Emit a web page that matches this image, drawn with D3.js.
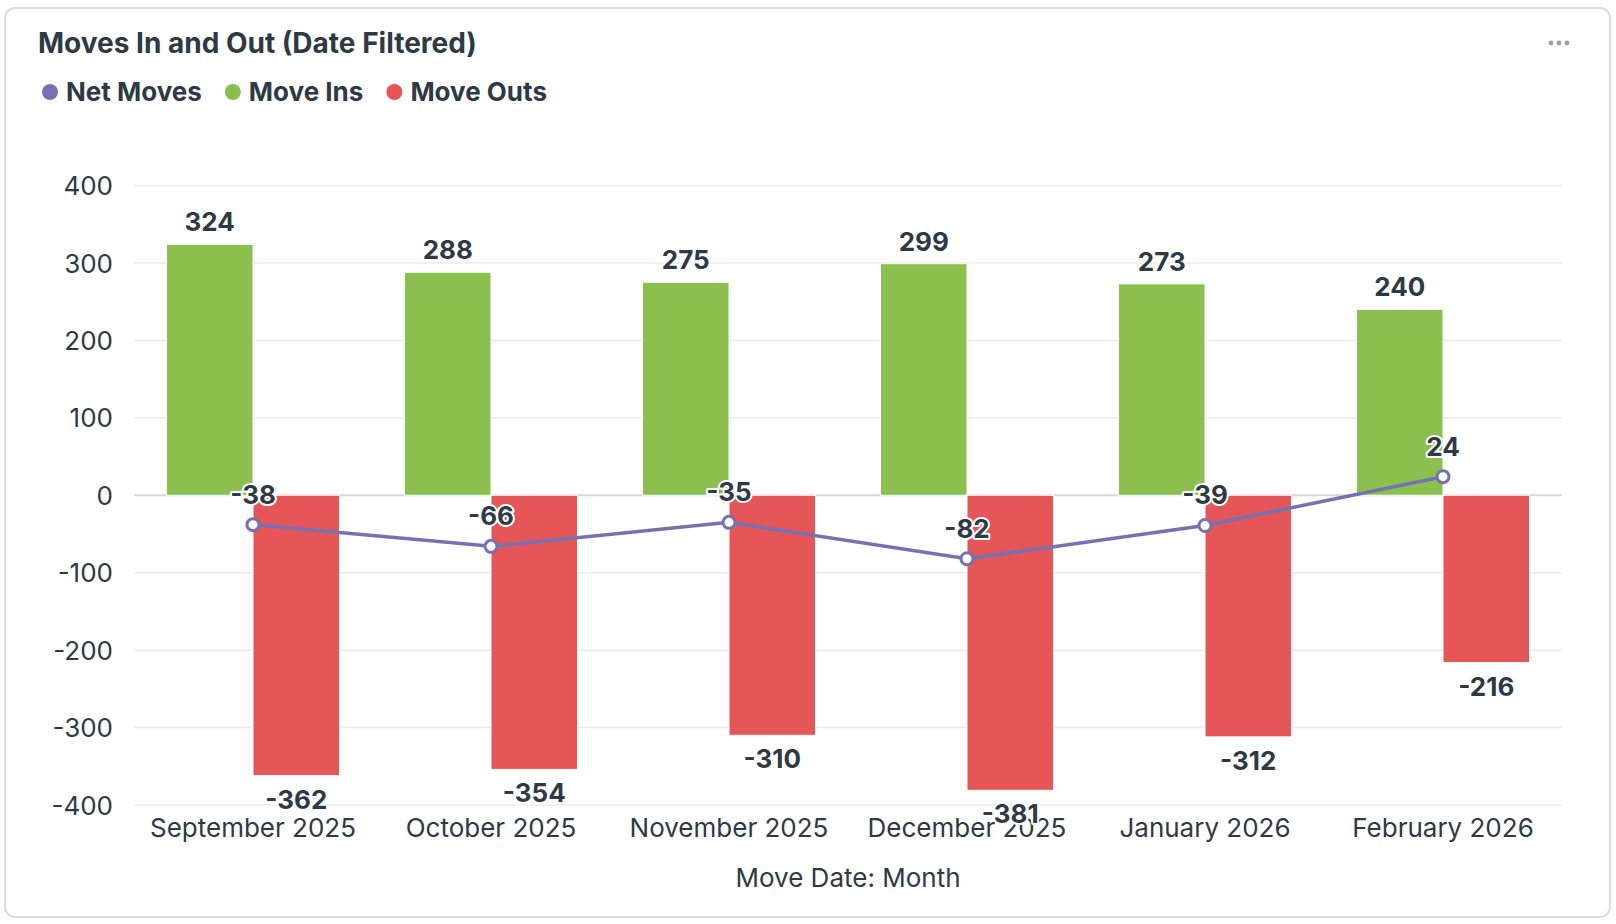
<!DOCTYPE html>
<html>
<head>
<meta charset="utf-8">
<script src="https://cdn.jsdelivr.net/npm/d3@7"></script>
<style>
  body { margin: 0; background: #fff; font-family: Inter, 'Noto Sans', sans-serif; }
  svg text { font-family: Inter, 'Noto Sans', sans-serif; }
</style>
</head>
<body>
<svg id="chart" width="1616" height="924"></svg>
<script>
const months = ['September 2025', 'October 2025', 'November 2025', 'December 2025', 'January 2026', 'February 2026']
const moveIns = [324, 288, 275, 299, 273, 240]
const moveOuts = [-362, -354, -310, -381, -312, -216]
const netMoves = [-38, -66, -35, -82, -39, 24]
const yTicks = [400, 300, 200, 100, 0, -100, -200, -300, -400]
const legendItems = [
  { name: 'Net Moves', color: '#7572b3' },
  { name: 'Move Ins', color: '#8bc04f' },
  { name: 'Move Outs', color: '#e65557' }
]

const textColor = '#2d3a46'
const svg = d3.select('#chart')

// card
svg.append('rect')
  .attr('x', 5).attr('y', 8)
  .attr('width', 1605).attr('height', 909)
  .attr('rx', 10)
  .attr('fill', '#fff')
  .attr('stroke', '#dcdcdc')
  .attr('stroke-width', 2)

svg.append('text')
  .attr('x', 38).attr('y', 53)
  .attr('fill', textColor)
  .style('font-size', '28px')
  .style('font-weight', 700)
  .text('Moves In and Out (Date Filtered)')

// "..." menu
svg.selectAll('.dot')
  .data([0, 1, 2])
  .join('circle')
  .attr('cx', d => 1551 + d * 8)
  .attr('cy', 43)
  .attr('r', 2.4)
  .attr('fill', '#9aa0a6')

// legend
const legend = svg.append('g')
let lx = 50
legendItems.forEach(item => {
  legend.append('circle')
    .attr('cx', lx).attr('cy', 92).attr('r', 8)
    .attr('fill', item.color)
  const t = legend.append('text')
    .attr('x', lx + 16).attr('y', 101)
    .attr('fill', textColor)
    .style('font-size', '26px')
    .style('font-weight', 700)
    .text(item.name)
  lx += 16 + t.node().getComputedTextLength() + 31
})

// scales
const x = d3.scaleBand().domain(months).range([134, 1562]).padding(0)
const sub = d3.scaleBand().domain(['in', 'out']).range([0, x.bandwidth()]).paddingOuter(0.376)
const y = d3.scaleLinear().domain([-400, 400]).range([805, 185.5])

// grid
svg.append('g')
  .selectAll('line')
  .data(yTicks)
  .join('line')
  .attr('x1', 134).attr('x2', 1562)
  .attr('y1', d => y(d)).attr('y2', d => y(d))
  .attr('stroke', d => d === 0 ? '#d8d8d8' : '#ececec')
  .attr('stroke-width', d => d === 0 ? 2 : 1.5)

// y axis
const yAxis = svg.append('g')
  .attr('transform', 'translate(113,0)')
  .call(d3.axisLeft(y).tickValues(yTicks).tickSize(0).tickPadding(0).tickFormat(d => String(d)))
yAxis.select('.domain').remove()
yAxis.selectAll('text')
  .attr('fill', textColor)
  .attr('dy', '0.35em')
  .style('font-size', '26px')

// x axis
const xAxis = svg.append('g')
  .attr('transform', 'translate(0,811)')
  .call(d3.axisBottom(x).tickSize(0).tickPadding(0))
xAxis.select('.domain').remove()
xAxis.selectAll('text')
  .attr('fill', textColor)
  .attr('dy', '1em')
  .style('font-size', '26px')

svg.append('text')
  .attr('x', 848).attr('y', 887)
  .attr('text-anchor', 'middle')
  .attr('fill', textColor)
  .style('font-size', '26px')
  .text('Move Date: Month')

// bars
const plot = svg.append('g')
plot.selectAll('.bar-in')
  .data(moveIns)
  .join('rect')
  .attr('class', 'bar-in')
  .attr('x', (d, i) => x(months[i]) + sub('in'))
  .attr('width', sub.bandwidth())
  .attr('y', d => y(d))
  .attr('height', d => y(0) - y(d))
  .attr('fill', '#8bc04f')
  .attr('stroke', '#fff')
  .attr('stroke-width', 1)

plot.selectAll('.bar-out')
  .data(moveOuts)
  .join('rect')
  .attr('class', 'bar-out')
  .attr('x', (d, i) => x(months[i]) + sub('out'))
  .attr('width', sub.bandwidth())
  .attr('y', y(0))
  .attr('height', d => y(d) - y(0))
  .attr('fill', '#e65557')
  .attr('stroke', '#fff')
  .attr('stroke-width', 1)

// bar labels
const labelStyle = sel => sel
  .attr('text-anchor', 'middle')
  .attr('fill', textColor)
  .attr('paint-order', 'stroke')
  .attr('stroke', '#fff')
  .attr('stroke-width', 4)
  .attr('stroke-linejoin', 'round')
  .style('font-size', '26px')
  .style('font-weight', 700)

plot.selectAll('.lab-in')
  .data(moveIns)
  .join('text')
  .attr('class', 'lab-in')
  .attr('x', (d, i) => x(months[i]) + sub('in') + sub.bandwidth() / 2)
  .attr('y', d => y(d) - 13)
  .text(d => d)
  .call(labelStyle)

plot.selectAll('.lab-out')
  .data(moveOuts)
  .join('text')
  .attr('class', 'lab-out')
  .attr('x', (d, i) => x(months[i]) + sub('out') + sub.bandwidth() / 2)
  .attr('y', d => y(d) + 33)
  .text(d => d)
  .call(labelStyle)

// net line
const cx = i => x(months[i]) + x.bandwidth() / 2
const line = d3.line().x((d, i) => cx(i)).y(d => y(d))
plot.append('path')
  .datum(netMoves)
  .attr('d', line)
  .attr('fill', 'none')
  .attr('stroke', '#7572b3')
  .attr('stroke-width', 3.5)

plot.selectAll('.pt')
  .data(netMoves)
  .join('circle')
  .attr('class', 'pt')
  .attr('cx', (d, i) => cx(i))
  .attr('cy', d => y(d))
  .attr('r', 6)
  .attr('fill', '#fff')
  .attr('stroke', '#7572b3')
  .attr('stroke-width', 3)

plot.selectAll('.lab-net')
  .data(netMoves)
  .join('text')
  .attr('class', 'lab-net')
  .attr('x', (d, i) => cx(i))
  .attr('y', d => y(d) - 21)
  .text(d => d)
  .call(labelStyle)
</script>
</body>
</html>
